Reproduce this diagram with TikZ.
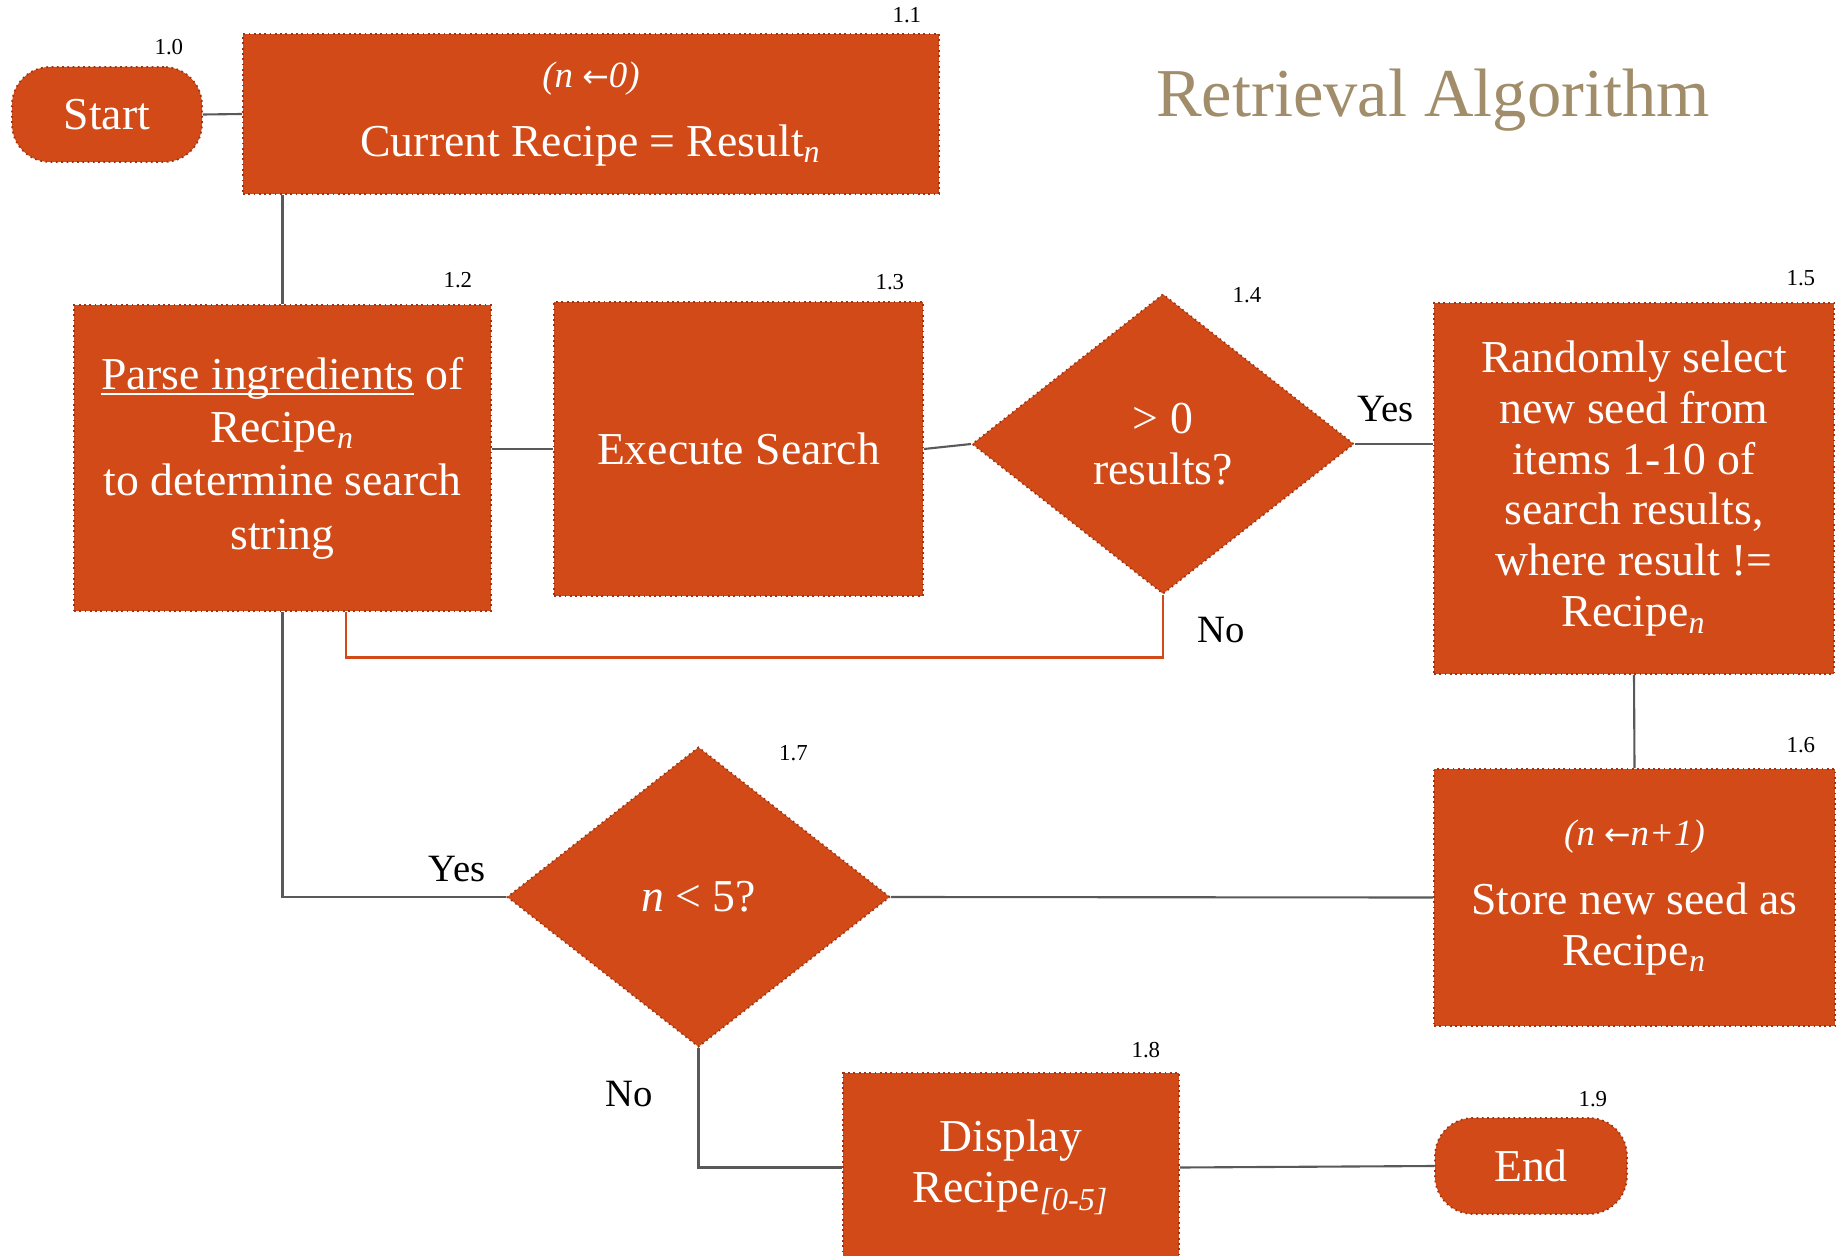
\documentclass[tikz,border=0pt]{standalone}
\usepackage{fontspec}
\setmainfont{Liberation Serif}
\newfontfamily\arrowfont{DejaVu Sans}
\usetikzlibrary{positioning,calc,shapes.geometric}
\definecolor{rust}{RGB}{209,74,23}
\definecolor{rustedge}{RGB}{160,52,18}
\definecolor{khaki}{RGB}{161,141,106}
\newcommand\stepnote[1]{{\fontsize{10.5pt}{12pt}\selectfont\itshape #1}}
\newcommand\setarrow{{\arrowfont\fontsize{9pt}{10pt}\selectfont ←}}

\begin{document}
\begin{tikzpicture}[
  font=\fontsize{13pt}{14.5pt}\selectfont,
  every node/.style={inner sep=1pt},
  stepbox/.style={draw=rustedge, densely dotted, line width=0.5pt, fill=rust, text=white, align=center},
  terminal/.style={stepbox, rounded corners=0.38cm, minimum width=1.9cm, minimum height=0.95cm},
  decision/.style={stepbox, diamond, inner sep=0pt},
  tag/.style={font=\fontsize{6.5pt}{7pt}\selectfont},
  answer/.style={font=\fontsize{11pt}{12pt}\selectfont},
  link/.style={draw=black!65, line width=0.6pt},
  backlink/.style={draw=rust, line width=0.8pt},
]
\useasboundingbox (0,0) rectangle (18.41,-12.56);

% Title
\node[font=\fontsize{19.5pt}{22pt}\selectfont, text=khaki] (heading) at (14.33,-1.0) {Retrieval Algorithm};

% Top row
\node[terminal] (start) at (1.07,-1.145) {Start};
\node[stepbox, minimum width=6.96cm, minimum height=1.6cm] (init) at (5.91,-1.14)
  {\stepnote{(n \setarrow0)}\\[5pt]Current Recipe = Result\textsubscript{\textit{n}}};

% Search row
\node[stepbox, minimum width=4.17cm, minimum height=3.06cm, font=\fontsize{13pt}{15.2pt}\selectfont] (parse) at (2.825,-4.58)
  {\underline{\smash{Parse ingredients}} of\\Recipe\textsubscript{\textit{n}}\\to determine search\\string};
\node[stepbox, minimum width=3.69cm, minimum height=2.94cm] (search) at (7.385,-4.49) {Execute Search};
\node[decision, minimum width=3.82cm, minimum height=3cm] (anyres) at (11.63,-4.44) {> 0\\results?};
\node[stepbox, minimum width=4cm, minimum height=3.71cm] (pick) at (16.34,-4.885)
  {Randomly select\\new seed from\\items 1-10 of\\search results,\\where result !=\\Recipe\textsubscript{\textit{n}}};

% Loop row
\node[stepbox, minimum width=4.01cm, minimum height=2.57cm] (store) at (16.345,-8.975)
  {\stepnote{(n \setarrow n+1)}\\[5pt]Store new seed as\\Recipe\textsubscript{\textit{n}}};
\node[decision, minimum width=3.83cm, minimum height=3cm] (loop) at (6.985,-8.97) {\textit{n} < 5?};

% Output row
\node[stepbox, minimum width=3.36cm, minimum height=1.89cm] (show) at (10.11,-11.675)
  {Display\\Recipe\textsubscript{\textit{[0-5]}}};
\node[terminal, minimum width=1.92cm, minimum height=0.96cm] (finish) at (15.31,-11.66) {End};

% Step numbers
\node[tag] (t10) at ($(start.north east)+(-0.34,0.19)$) {1.0};
\node[tag] (t11) at ($(init.north east)+(-0.33,0.18)$) {1.1};
\node[tag] (t12) at ($(parse.north east)+(-0.34,0.24)$) {1.2};
\node[tag] (t13) at ($(search.north east)+(-0.34,0.19)$) {1.3};
\node[tag] (t14) at ($(anyres.north)+(0.84,-0.02)$) {1.4};
\node[tag] (t15) at ($(pick.north east)+(-0.34,0.24)$) {1.5};
\node[tag] (t16) at ($(store.north east)+(-0.35,0.23)$) {1.6};
\node[tag] (t17) at ($(loop.north)+(0.95,-0.07)$) {1.7};
\node[tag] (t18) at ($(show.north east)+(-0.34,0.22)$) {1.8};
\node[tag] (t19) at ($(finish.north east)+(-0.35,0.18)$) {1.9};

% Connectors
\draw[link] (start.east) -- (init.west);
\draw[link] (init.south -| parse.north) -- (parse.north);
\draw[link] (parse.east |- search.west) -- (search.west);
\draw[link] (search.east) -- (anyres.west);
\draw[link] (anyres.east) -- (pick.west |- anyres.east);
\node[answer] (yes1) at ($(anyres.east)+(0.31,0.35)$) {Yes};

% No results: back to parsing
\coordinate (backturn) at ($(parse.south)+(0.635,-0.46)$);
\draw[backlink] (anyres.south) |- (backturn) -- (backturn |- parse.south);
\node[answer] (no1) at ($(anyres.south)+(0.58,-0.35)$) {No};

\draw[link] (pick.south) -- (store.north);
\draw[link] (store.west) -- (loop.east);
\draw[link] (parse.south) |- (loop.west);
\node[answer] (yes2) at ($(loop.west)+(-0.49,0.28)$) {Yes};
\draw[link] (loop.south) |- (show.west);
\node[answer] (no2) at ($(loop.south)+(-0.695,-0.46)$) {No};
\draw[link] (show.east) -- (finish.west);

\end{tikzpicture}
\end{document}
